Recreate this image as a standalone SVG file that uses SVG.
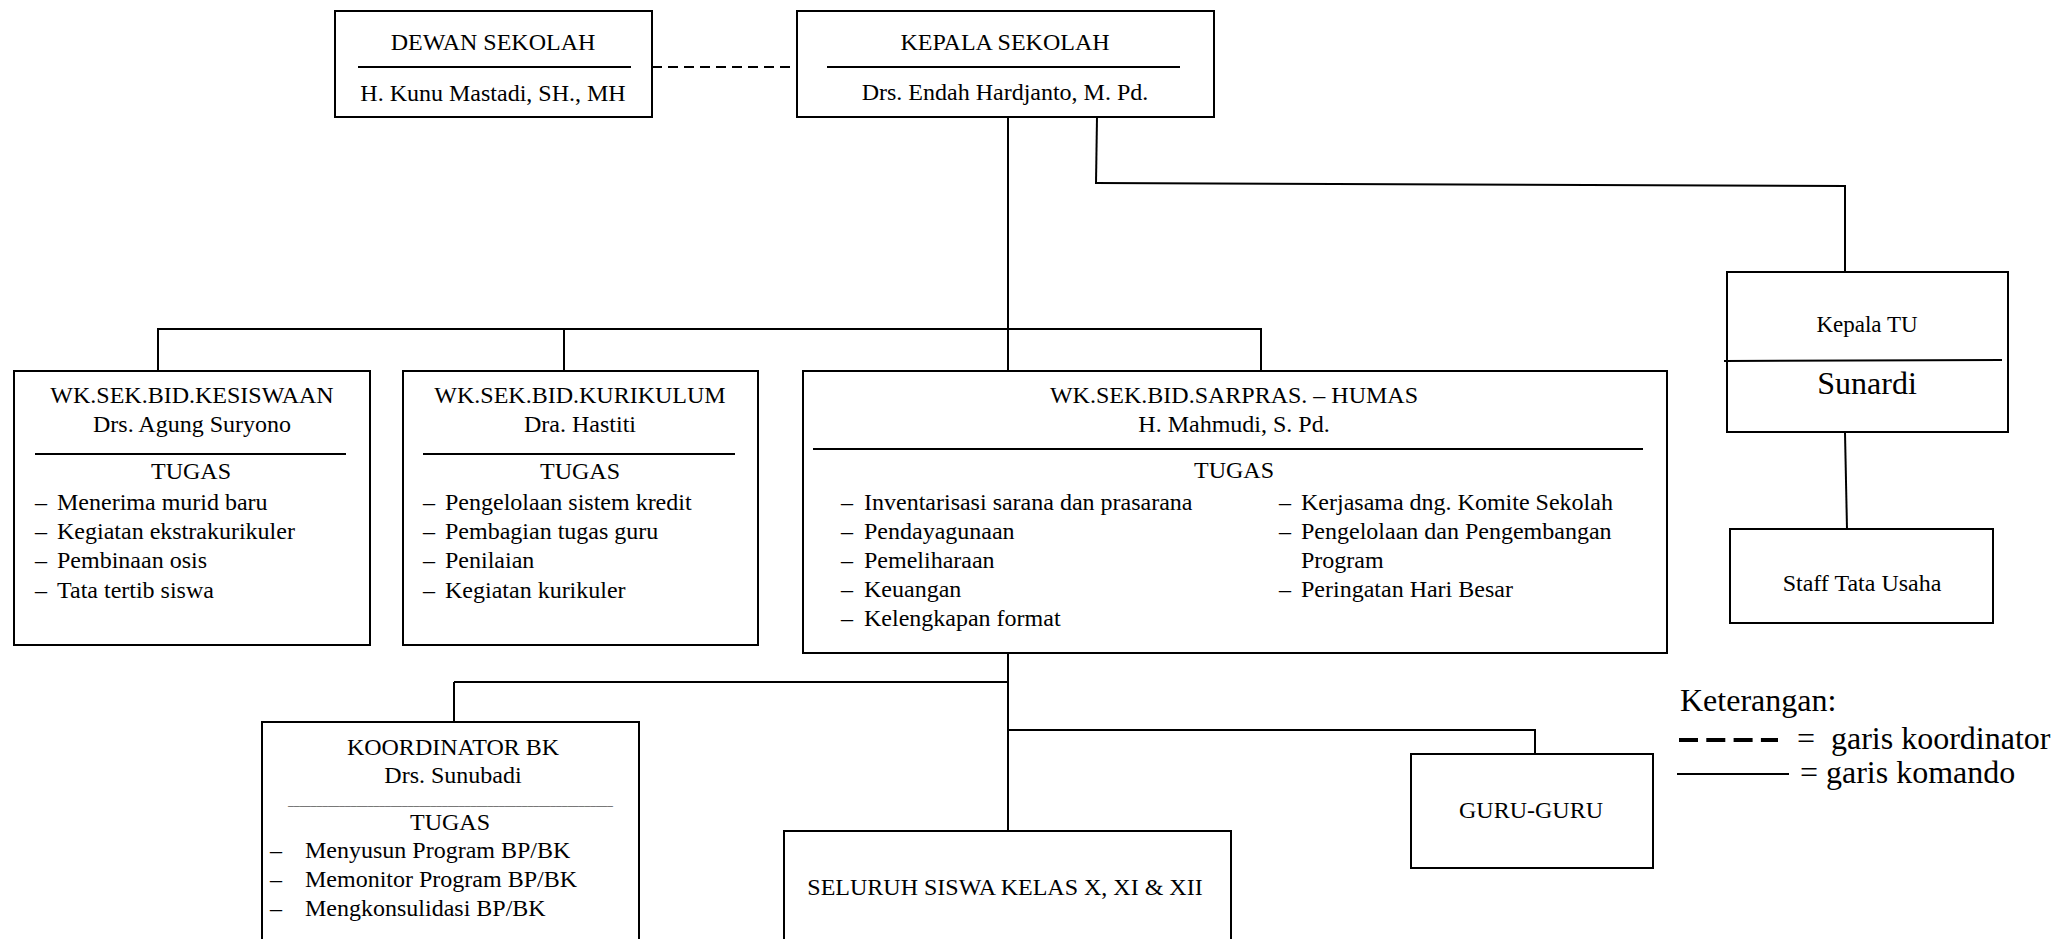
<svg xmlns="http://www.w3.org/2000/svg" width="2070" height="939" viewBox="0 0 2070 939">
<style>
.box{fill:#fff;stroke:#000;stroke-width:2}
.ln{stroke:#000;stroke-width:2;fill:none}
.dash{stroke:#000;stroke-width:2;fill:none;stroke-dasharray:10 6}
.t{font-family:"Liberation Serif","Times New Roman",serif;font-size:24px;fill:#000}
.c{text-anchor:middle}
.lg{font-size:32px}
</style>
<rect width="2070" height="939" fill="#fff"/>
<g id="connectors">
<path class="dash" d="M652,67 H797"/>
<path class="ln" d="M1008,117 V371"/>
<path class="ln" d="M157,329 H1262"/>
<path class="ln" d="M158,329 V371 M564,329 V371 M1261,329 V371"/>
<path class="ln" d="M1097,117 L1096,183"/>
<path class="ln" d="M1095,183 L1845,186 L1845,271"/>
<path class="ln" d="M1845,433 L1847,529"/>
<path class="ln" d="M1008,653 V831"/>
<path class="ln" d="M454,682 H1008 M454,682 V722"/>
<path class="ln" d="M1008,730 H1535 V754"/>
</g>
<g id="dewan">
<rect class="box" x="335" y="11" width="317" height="106"/>
<line class="ln" x1="358" y1="67" x2="631" y2="67"/>
<text class="t c" x="493" y="50">DEWAN SEKOLAH</text>
<text class="t c" x="493" y="101">H. Kunu Mastadi, SH., MH</text>
</g>
<g id="kepala">
<rect class="box" x="797" y="11" width="417" height="106"/>
<line class="ln" x1="827" y1="67" x2="1180" y2="67"/>
<text class="t c" x="1005" y="50">KEPALA SEKOLAH</text>
<text class="t c" x="1005" y="100">Drs. Endah Hardjanto, M. Pd.</text>
</g>
<g id="kesiswaan">
<rect class="box" x="14" y="371" width="356" height="274"/>
<line class="ln" x1="35" y1="454" x2="346" y2="454"/>
<text class="t c" x="192" y="403">WK.SEK.BID.KESISWAAN</text>
<text class="t c" x="192" y="432">Drs. Agung Suryono</text>
<text class="t c" x="191" y="479">TUGAS</text>
<text class="t" y="510"><tspan x="35">–</tspan><tspan x="57">Menerima murid baru</tspan></text>
<text class="t" y="539"><tspan x="35">–</tspan><tspan x="57">Kegiatan ekstrakurikuler</tspan></text>
<text class="t" y="568"><tspan x="35">–</tspan><tspan x="57">Pembinaan osis</tspan></text>
<text class="t" y="598"><tspan x="35">–</tspan><tspan x="57">Tata tertib siswa</tspan></text>
</g>
<g id="kurikulum">
<rect class="box" x="403" y="371" width="355" height="274"/>
<line class="ln" x1="423" y1="454" x2="735" y2="454"/>
<text class="t c" x="580" y="403">WK.SEK.BID.KURIKULUM</text>
<text class="t c" x="580" y="432">Dra. Hastiti</text>
<text class="t c" x="580" y="479">TUGAS</text>
<text class="t" y="510"><tspan x="423">–</tspan><tspan x="445">Pengelolaan sistem kredit</tspan></text>
<text class="t" y="539"><tspan x="423">–</tspan><tspan x="445">Pembagian tugas guru</tspan></text>
<text class="t" y="568"><tspan x="423">–</tspan><tspan x="445">Penilaian</tspan></text>
<text class="t" y="598"><tspan x="423">–</tspan><tspan x="445">Kegiatan kurikuler</tspan></text>
</g>
<g id="sarpras">
<rect class="box" x="803" y="371" width="864" height="282"/>
<line class="ln" x1="813" y1="449" x2="1643" y2="449"/>
<text class="t c" x="1234" y="403">WK.SEK.BID.SARPRAS. – HUMAS</text>
<text class="t c" x="1234" y="432">H. Mahmudi, S. Pd.</text>
<text class="t c" x="1234" y="478">TUGAS</text>
<text class="t" y="510"><tspan x="841">–</tspan><tspan x="864">Inventarisasi sarana dan prasarana</tspan></text>
<text class="t" y="539"><tspan x="841">–</tspan><tspan x="864">Pendayagunaan</tspan></text>
<text class="t" y="568"><tspan x="841">–</tspan><tspan x="864">Pemeliharaan</tspan></text>
<text class="t" y="597"><tspan x="841">–</tspan><tspan x="864">Keuangan</tspan></text>
<text class="t" y="626"><tspan x="841">–</tspan><tspan x="864">Kelengkapan format</tspan></text>
<text class="t" y="510"><tspan x="1279">–</tspan><tspan x="1301">Kerjasama dng. Komite Sekolah</tspan></text>
<text class="t" y="539"><tspan x="1279">–</tspan><tspan x="1301">Pengelolaan dan Pengembangan</tspan></text>
<text class="t" x="1301" y="568">Program</text>
<text class="t" y="597"><tspan x="1279">–</tspan><tspan x="1301">Peringatan Hari Besar</tspan></text>
</g>
<g id="kepala-tu">
<rect class="box" x="1727" y="272" width="281" height="160"/>
<line class="ln" x1="1724" y1="361" x2="2002" y2="360"/>
<text class="t c" x="1867" y="332" style="font-size:23px">Kepala TU</text>
<text class="t c" x="1867" y="394" style="font-size:32px">Sunardi</text>
</g>
<g id="staff-tu">
<rect class="box" x="1730" y="529" width="263" height="94"/>
<text class="t c" x="1862" y="591">Staff Tata Usaha</text>
</g>
<g id="koordinator-bk">
<rect class="box" x="262" y="722" width="377" height="230"/>
<text class="t c" x="453" y="755">KOORDINATOR BK</text>
<text class="t c" x="453" y="783">Drs. Sunubadi</text>
<text class="t" x="288" y="805" textLength="325" lengthAdjust="spacingAndGlyphs" style="font-size:12px;fill:#444">_________________________________________________________</text>
<text class="t c" x="450" y="830">TUGAS</text>
<text class="t" y="858"><tspan x="270">–</tspan><tspan x="305">Menyusun Program BP/BK</tspan></text>
<text class="t" y="887"><tspan x="270">–</tspan><tspan x="305">Memonitor Program BP/BK</tspan></text>
<text class="t" y="916"><tspan x="270">–</tspan><tspan x="305">Mengkonsulidasi BP/BK</tspan></text>
</g>
<g id="seluruh-siswa">
<rect class="box" x="784" y="831" width="447" height="130"/>
<text class="t c" x="1005" y="895">SELURUH SISWA KELAS X, XI &amp; XII</text>
</g>
<g id="guru-guru">
<rect class="box" x="1411" y="754" width="242" height="114"/>
<text class="t c" x="1531" y="818">GURU-GURU</text>
</g>
<g id="legend">
<text class="t lg" x="1680" y="711">Keterangan:</text>
<line x1="1679" y1="740" x2="1778" y2="740" stroke="#000" stroke-width="4" stroke-dasharray="19 8.3"/>
<text class="t lg" y="749"><tspan x="1797">=</tspan><tspan x="1831">garis koordinator</tspan></text>
<line x1="1677" y1="774" x2="1789" y2="774" stroke="#000" stroke-width="2"/>
<text class="t lg" y="783"><tspan x="1800">=</tspan><tspan x="1826">garis komando</tspan></text>
</g>
</svg>
